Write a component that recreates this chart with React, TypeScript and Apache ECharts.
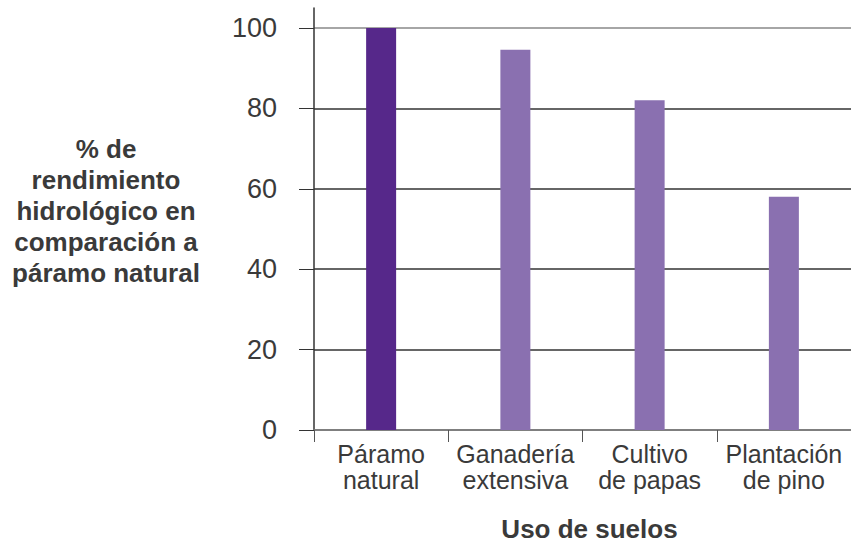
import React, { useEffect, useRef } from "react";
import * as echarts from "echarts";

const categories = ["Páramo\nnatural", "Ganadería\nextensiva", "Cultivo\nde papas", "Plantación\nde pino"];
const values = [100, 94.6, 82, 58];
const barColors = ["#56288A", "#8A70B0", "#8A70B0", "#8A70B0"];
const yTitle = "% de\nrendimiento\nhidrológico en\ncomparación a\npáramo natural";
const xTitle = "Uso de suelos";

export default function App() {
  const ref = useRef<HTMLDivElement>(null);
  useEffect(() => {
    const chart = echarts.init(ref.current!, null, { renderer: "svg" });
    const font = "'Liberation Sans', Arial, sans-serif";
    chart.setOption({
      animation: false,
      backgroundColor: "#ffffff",
      grid: [
        { left: 314, right: 0, top: 28, bottom: 114, outerBoundsMode: "none", containLabel: false },
        { left: 314, right: 0, top: 8, bottom: 114, outerBoundsMode: "none", containLabel: false },
      ],
      graphic: [
        {
          type: "text",
          x: 106,
          y: 211,
          style: {
            text: yTitle,
            textAlign: "center",
            textVerticalAlign: "middle",
            font: `bold 26px ${font}`,
            lineHeight: 31,
            fill: "#3a3a3a",
          },
        },
      ],
      xAxis: [
        {
          type: "category",
          gridIndex: 0,
          data: categories,
          axisLine: { show: true, lineStyle: { color: "#888888", width: 1.5 } },
          axisTick: { show: true, length: 12, lineStyle: { color: "#555555" } },
          axisLabel: {
            color: "#3a3a3a",
            fontFamily: font,
            fontSize: 25,
            lineHeight: 26,
            margin: 11,
            interval: 0,
          },
          name: xTitle,
          nameLocation: "middle",
          nameGap: 86,
          nameTextStyle: {
            color: "#3a3a3a",
            fontFamily: font,
            fontSize: 26,
            fontWeight: "bold",
            padding: [0, 0, 0, 14],
          },
        },
        { type: "value", gridIndex: 1, show: false, min: 0, max: 1 },
      ],
      yAxis: [
        {
          type: "value",
          gridIndex: 0,
          min: 0,
          max: 100,
          interval: 20,
          axisLine: { show: false },
          axisTick: { show: true, length: 15, lineStyle: { color: "#333333" } },
          axisLabel: { color: "#3a3a3a", fontFamily: font, fontSize: 27, margin: 37 },
          splitLine: {
            show: true,
            lineStyle: { color: ["#333333", "#333333", "#333333", "#333333", "#333333", "#888888"], width: 1.5 },
          },
        },
        {
          type: "value",
          gridIndex: 1,
          min: 0,
          max: 1,
          axisLine: { show: true, lineStyle: { color: "#333333", width: 1.5 } },
          axisTick: { show: false },
          axisLabel: { show: false },
          splitLine: { show: false },
        },
      ],
      series: [
        {
          type: "bar",
          xAxisIndex: 0,
          yAxisIndex: 0,
          barWidth: 30,
          data: values.map((v, i) => ({ value: v, itemStyle: { color: barColors[i] } })),
        },
      ],
    });
    return () => chart.dispose();
  }, []);
  return <div ref={ref} style={{ width: 851, height: 544, position: "absolute", left: 0, top: 0 }} />;
}
